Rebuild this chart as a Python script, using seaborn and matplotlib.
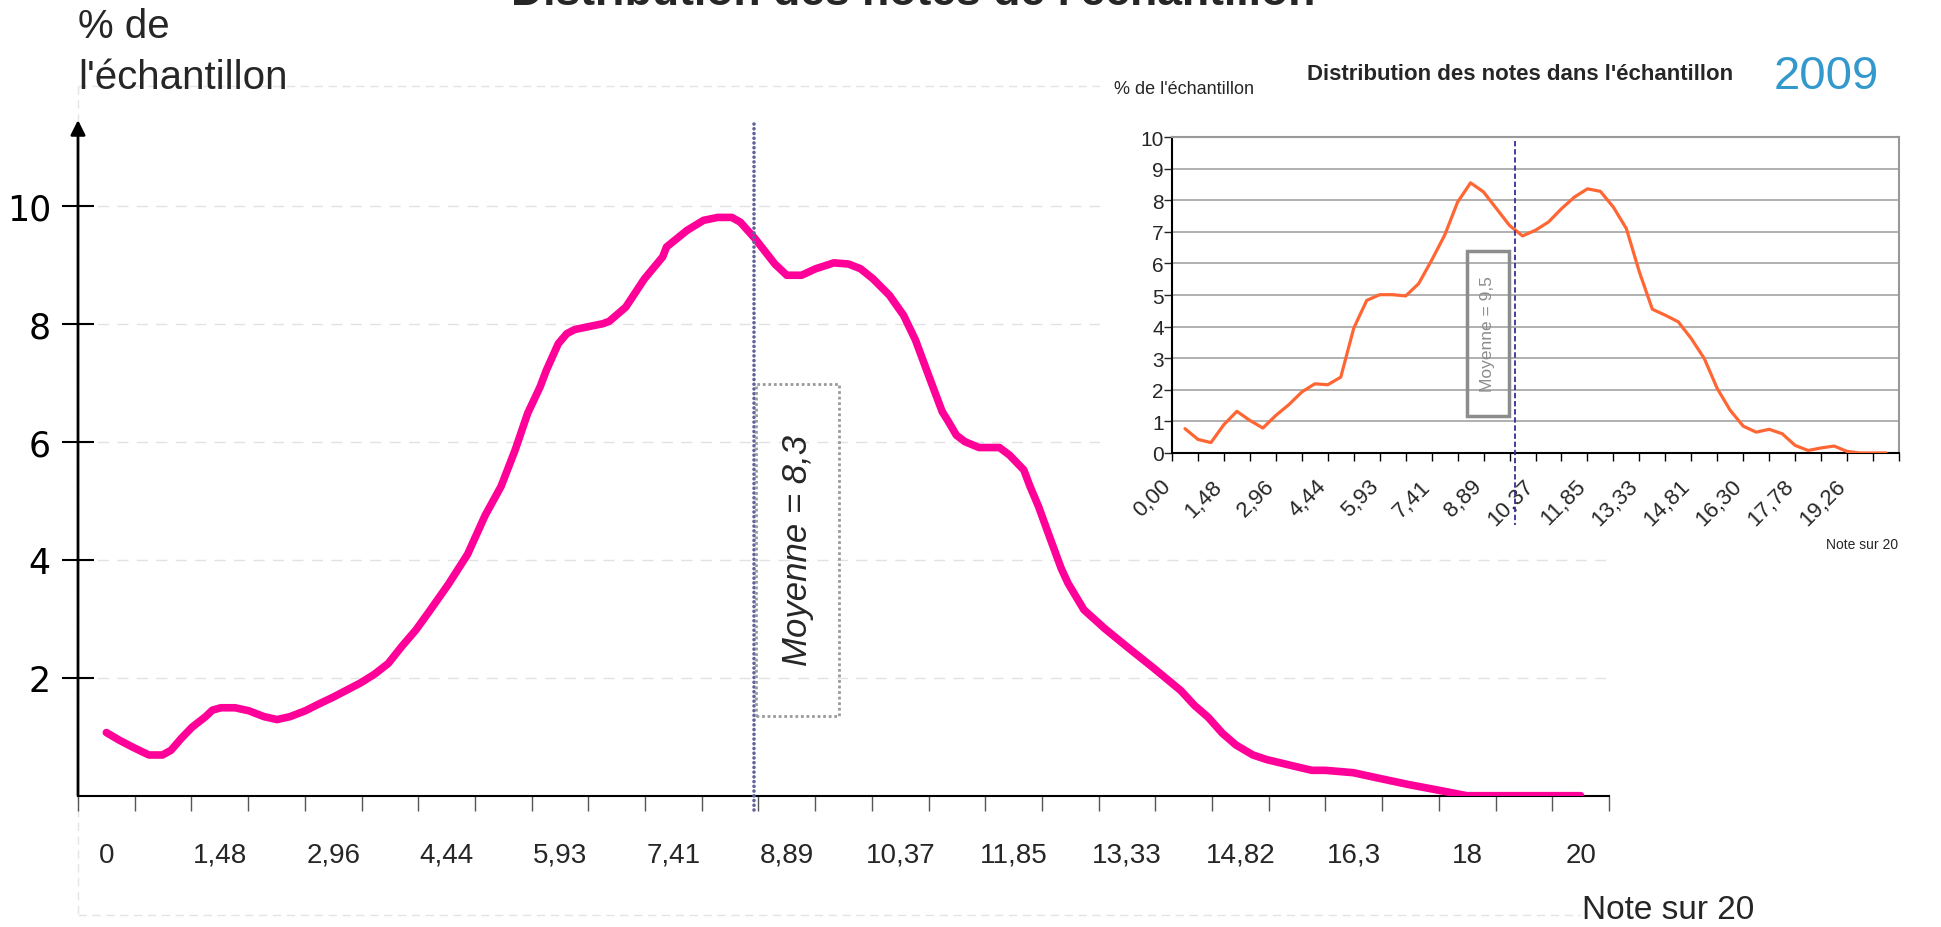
import numpy as np
import pandas as pd
import matplotlib
matplotlib.use("Agg")
import matplotlib.pyplot as plt
import seaborn as sns
from matplotlib.patches import Rectangle
from matplotlib.lines import Line2D
from matplotlib.transforms import ScaledTranslation

# ---------------- data ----------------
# main curve: position in category units (27 categories of 20/27 point), % of sample
main_pos = [0.50, 0.73, 0.97, 1.25, 1.49, 1.64, 1.82, 2.01, 2.25, 2.37,
            2.52, 2.77, 3.01, 3.28, 3.51, 3.74, 4.01, 4.26, 4.50, 4.74,
            4.98, 5.23, 5.47, 5.71, 5.96, 6.20, 6.53, 6.87, 7.18, 7.46,
            7.71, 7.93, 8.15, 8.26, 8.47, 8.62, 8.76, 9.26, 9.37, 9.66,
            9.99, 10.31, 10.38, 10.74, 11.03, 11.28, 11.53, 11.68, 11.94, 12.29,
            12.50, 12.76, 13.01, 13.33, 13.59, 13.80, 14.02, 14.31, 14.56, 14.67,
            14.77, 14.99, 15.24, 15.35, 15.49, 15.64, 15.89, 16.25, 16.43, 16.68,
            16.79, 16.94, 17.11, 17.34, 17.46, 17.74, 18.11, 18.53, 18.96, 19.45,
            19.69, 19.93, 20.18, 20.42, 20.72, 20.97, 21.45, 21.76, 22.00, 22.49,
            22.97, 23.46, 24.01, 24.49, 26.50]
main_pct = [1.07, 0.94, 0.82, 0.69, 0.69, 0.77, 0.97, 1.16, 1.34, 1.45,
            1.49, 1.49, 1.44, 1.34, 1.29, 1.34, 1.44, 1.56, 1.67, 1.79,
            1.91, 2.06, 2.24, 2.53, 2.81, 3.13, 3.58, 4.09, 4.75, 5.24,
            5.86, 6.48, 6.93, 7.21, 7.66, 7.83, 7.90, 8.00, 8.04, 8.28,
            8.76, 9.13, 9.30, 9.58, 9.75, 9.80, 9.80, 9.72, 9.44, 9.01,
            8.82, 8.82, 8.93, 9.03, 9.01, 8.93, 8.76, 8.48, 8.14, 7.92,
            7.72, 7.15, 6.51, 6.34, 6.11, 6.00, 5.90, 5.90, 5.77, 5.52,
            5.24, 4.90, 4.45, 3.85, 3.60, 3.15, 2.83, 2.50, 2.17, 1.78,
            1.53, 1.33, 1.06, 0.86, 0.69, 0.61, 0.50, 0.43, 0.43, 0.39,
            0.29, 0.19, 0.09, 0.00, 0.00]
main_labels = ['0', '1,48', '2,96', '4,44', '5,93', '7,41', '8,89', '10,37',
               '11,85', '13,33', '14,82', '16,3', '18', '20']
main_yticks = [2, 4, 6, 8, 10]

# inset (2009) curve, sampled every half category (28 categories)
inset_pct = [0.77, 0.43, 0.33, 0.90, 1.32, 1.03, 0.79, 1.19, 1.53, 1.93,
             2.19, 2.16, 2.40, 3.95, 4.83, 5.01, 5.01, 4.97, 5.36, 6.10,
             6.89, 7.94, 8.55, 8.26, 7.73, 7.20, 6.87, 7.05, 7.31, 7.73,
             8.10, 8.36, 8.28, 7.78, 7.10, 5.73, 4.55, 4.36, 4.15, 3.62,
             2.99, 2.04, 1.35, 0.85, 0.66, 0.75, 0.61, 0.24, 0.08, 0.16,
             0.22, 0.05, 0.0, 0.0, 0.0]
inset_labels = ['0,00', '1,48', '2,96', '4,44', '5,93', '7,41', '8,89', '10,37',
                '11,85', '13,33', '14,81', '16,30', '17,78', '19,26']

main_mean_text = "Moyenne = 8,3"
inset_mean_text = "Moyenne = 9,5"

# ---------------- style ----------------
sns.set_style("white")
plt.rcParams['font.family'] = ['Liberation Sans', 'DejaVu Sans']

W, H = 1941, 928
fig = plt.figure(figsize=(W / 100, H / 100), dpi=100)


def fx(px):
    return px / W


def fy(py):
    return 1 - py / H


# faint outer frame of the main chart (top, left, bottom)
frame_kw = dict(transform=fig.transFigure, color='#e4e4e4', lw=1,
                ls=(0, (6, 4)), zorder=-1)
fig.add_artist(Line2D([fx(78), fx(1100)], [fy(87), fy(87)], **frame_kw))
fig.add_artist(Line2D([fx(78), fx(78)], [fy(87), fy(916)], **frame_kw))
fig.add_artist(Line2D([fx(78), fx(1580)], [fy(916), fy(916)], **frame_kw))

# ---------------- main axes ----------------
x0, x1, y0, y1 = 78, 1609, 796.7, 124
ax = fig.add_axes([fx(x0), fy(y0), (x1 - x0) / W, (y0 - y1) / H], zorder=0)
ax.patch.set_alpha(0)

df_main = pd.DataFrame({'pos': main_pos, 'pct': main_pct})
sns.lineplot(data=df_main, x='pos', y='pct', ax=ax, color='#FF0099', lw=5.5,
             solid_capstyle='round', solid_joinstyle='round', zorder=3,
             sort=False)
ax.set_xlim(0, 27)
ax.set_ylim(0, 11.4)
ax.set_xlabel('')
ax.set_ylabel('')

for v in main_yticks:
    ax.axhline(v, color='#e2e2e2', lw=1, ls=(0, (8, 6)), zorder=0)

for s in ['top', 'right', 'left']:
    ax.spines[s].set_visible(False)
ax.spines['bottom'].set_color('black')
ax.spines['bottom'].set_linewidth(1.5)

ax.annotate('', xy=(0, 11.45), xytext=(0, 0), xycoords='data',
            arrowprops=dict(arrowstyle='-|>', color='black', lw=2,
                            mutation_scale=22, shrinkA=0, shrinkB=0),
            annotation_clip=False)

ax.set_yticks(main_yticks)
ax.set_yticklabels([str(v) for v in main_yticks], family='DejaVu Sans')
ax.tick_params(axis='y', direction='inout', length=23, width=1.5, pad=8,
               labelsize=25, colors='black', left=True)

ax.set_xticks(np.arange(0.5, 27, 2))
ax.set_xticklabels(main_labels)
ax.set_xticks(np.arange(0, 28), minor=True)
ax.tick_params(axis='x', which='major', length=0, pad=33, labelsize=20)
ax.tick_params(axis='x', which='minor', length=11, width=1, color='#555555',
               bottom=True)

# mean line + label box
ax.plot([11.92, 11.92], [-0.24, 11.4], color='#62629c', lw=2.6,
        ls=(0, (0.01, 1.3)), dash_capstyle='round', clip_on=False, zorder=4)
ax.add_patch(Rectangle((11.96, 1.35), 1.46, 5.63, fill=False, ec='#9a9a9a',
                       lw=2, ls=(0, (1, 1)), zorder=4))
ax.text(12.69, 4.17, main_mean_text, rotation=90, ha='center', va='center',
        fontsize=25, style='italic', zorder=5)

fig.text(fx(913), fy(5), "Distribution des notes de l'échantillon",
         ha='center', va='baseline', fontsize=32, fontweight='bold')
fig.text(fx(78), fy(27), '% de', ha='left', va='center', fontsize=29)
fig.text(fx(78), fy(78), "l'échantillon", ha='left', va='center', fontsize=29)
fig.text(fx(1668), fy(911), 'Note sur 20', ha='center', va='center',
         fontsize=24)

# ---------------- inset ----------------
fig.add_artist(Rectangle((fx(1100), fy(552)), (W - 1100) / W, (552 - 40) / H,
                         transform=fig.transFigure, fc='white', ec='none',
                         zorder=1))

ix0, ix1, iy0, iy1 = 1172, 1899, 454, 138
axi = fig.add_axes([fx(ix0), fy(iy0), (ix1 - ix0) / W, (iy0 - iy1) / H],
                   zorder=2)
df_in = pd.DataFrame({'pos': (np.arange(len(inset_pct)) + 1) * 0.5,
                      'pct': inset_pct})
sns.lineplot(data=df_in, x='pos', y='pct', ax=axi, color='#FF6633', lw=2.3,
             zorder=3, solid_joinstyle='round')
axi.set_xlim(0, 28)
axi.set_ylim(0, 10)
axi.set_xlabel('')
axi.set_ylabel('')
axi.set_yticks(range(11))
axi.yaxis.grid(True, color='#a3a3a3', lw=1.2)
axi.set_axisbelow(True)
for s in ['top', 'right']:
    axi.spines[s].set_color('#999999')
    axi.spines[s].set_linewidth(1.5)
for s in ['left', 'bottom']:
    axi.spines[s].set_color('black')
    axi.spines[s].set_linewidth(1.5)
axi.tick_params(axis='y', direction='out', length=6, width=1, pad=0,
                labelsize=15, left=True)
axi.set_xticks(np.arange(0.5, 27, 2))
axi.set_xticklabels(inset_labels, rotation=45, ha='right', va='top',
                    rotation_mode='anchor')
axi.set_xticks(np.arange(0, 29), minor=True)
axi.tick_params(axis='x', which='major', length=0, pad=14, labelsize=16)
axi.tick_params(axis='x', which='minor', length=6, width=1, color='black',
                bottom=True)
shift = ScaledTranslation(-0.25, -0.03, fig.dpi_scale_trans)
for lbl in axi.get_xticklabels():
    lbl.set_transform(lbl.get_transform() + shift)

axi.plot([13.21, 13.21], [9.87, -2.28], color='#333399', lw=1.3,
         ls=(0, (3, 1.5)), clip_on=False, zorder=4)
axi.add_patch(Rectangle((11.36, 1.17), 1.62, 5.22, fill=False, ec='#8c8c8c',
                        lw=2.5, zorder=4))
axi.text(12.17, 3.78, inset_mean_text, rotation=90, ha='center', va='center',
         fontsize=12.5, color='#8c8c8c', zorder=5)

fig.text(fx(1520), fy(74), "Distribution des notes dans l'échantillon",
         ha='center', va='center', fontsize=16, fontweight='bold', zorder=3)
fig.text(fx(1826), fy(77), '2009', ha='center', va='center', fontsize=34,
         color='#3399CC', zorder=3)
fig.text(fx(1184), fy(90), "% de l'échantillon", ha='center', va='center',
         fontsize=13, zorder=3)
fig.text(fx(1862), fy(545), 'Note sur 20', ha='center', va='center',
         fontsize=10, zorder=3)

fig.savefig('out.png', dpi=100)
